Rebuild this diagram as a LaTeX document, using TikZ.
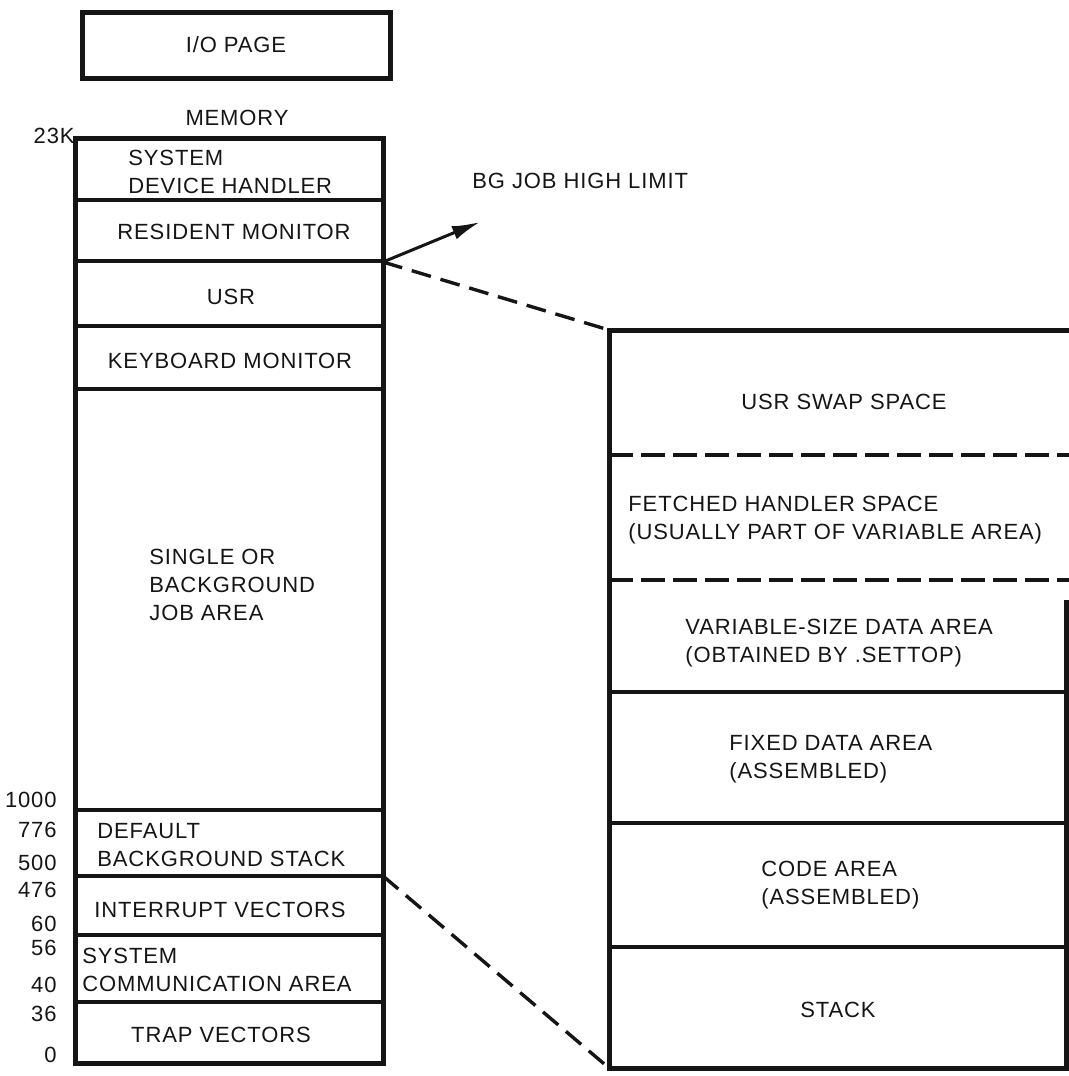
\documentclass[tikz,border=0pt]{standalone}
\usepackage{fontspec}
\setmainfont{Liberation Sans}
\newfontfamily\diagfont[LetterSpace=4]{Liberation Sans}
\usepackage{tikz}
\usetikzlibrary{arrows.meta}
\definecolor{ink}{HTML}{151515}
\tikzset{
  memline/.style={draw=ink, line width=2.5pt, line join=miter},
  divline/.style={draw=ink, line width=1.6pt},
  cutline/.style={draw=ink, line width=1.7pt, dash pattern=on 10pt off 5pt},
  splitline/.style={draw=ink, line width=1.6pt, dash pattern=on 12pt off 4pt},
  lbl/.style={text=ink, font=\diagfont\fontsize{11}{14}\selectfont,
              inner sep=0pt, align=center},
  lbll/.style={lbl, align=left, anchor=west},
  addr/.style={lbl, anchor=east},
  pagebox/.style={lbl, draw=ink, line width=2.5pt, minimum width=154pt,
                  minimum height=33pt},
  arr/.style={-{Latex[length=14pt, width=7pt]}, draw=ink, line width=1.5pt},
}

\begin{document}
\begin{tikzpicture}[x=0.5pt, y=-0.5pt]
  \useasboundingbox (0,0) rectangle (1069,1076);
  \node[pagebox] (iopage) at (236,45) {I/O PAGE};
  \node[lbl] (memtitle) at (237,118) {MEMORY};
  \node[addr] (k23) at (75,136) {23K};

  \coordinate (memtl) at (75,138);
  \coordinate (membr) at (383,1063);
  \draw[memline] (memtl) rectangle (membr);
  \foreach \y in {200,261,326,389,810,876,935,1002}
    \draw[divline] (75,\y) -- (383,\y);

  \node[lbll] (sysdev) at (128,172) {SYSTEM\\DEVICE HANDLER};
  \node[lbl] (resmon) at (234,232) {RESIDENT MONITOR};
  \node[lbl] (usr) at (231,297) {USR};
  \node[lbl] (kbmon) at (230,361) {KEYBOARD MONITOR};
  \node[lbll] (jobarea) at (149,585) {SINGLE OR\\BACKGROUND\\JOB AREA};
  \node[lbll] (bgstack) at (97,845) {DEFAULT\\BACKGROUND STACK};
  \node[lbl] (intvec) at (220,910) {INTERRUPT VECTORS};
  \node[lbll] (syscom) at (82,970) {SYSTEM\\COMMUNICATION AREA};
  \node[lbl] (trapvec) at (221,1035) {TRAP VECTORS};
  \foreach \a/\y in {1000/800, 776/830, 500/863, 476/890, 60/924,
                     56/948, 40/985, 36/1014, 0/1055}
    \node[addr] (a\a) at (57,\y) {\a};

  \coordinate (exptl) at (609,330);
  \coordinate (expbl) at (609,1068);
  \draw[memline] (1069,330) -- (exptl) -- (expbl) -- (1066,1068) -- (1066,600);
  \foreach \y in {455,580}
    \draw[splitline] (609,\y) -- (1069,\y);
  \foreach \y in {692,823,947}
    \draw[divline] (609,\y) -- (1066,\y);

  \node[lbl] (swap) at (844,402) {USR SWAP SPACE};
  \node[lbll] (fetched) at (628,520)
    {FETCHED HANDLER SPACE\\(USUALLY PART OF VARIABLE AREA)};
  \node[lbll] (vardata) at (685,643)
    {VARIABLE-SIZE DATA AREA\\(OBTAINED BY .SETTOP)};
  \node[lbll] (fixdata) at (729,759) {FIXED DATA AREA\\(ASSEMBLED)};
  \node[lbll] (code) at (761,885) {CODE AREA\\(ASSEMBLED)};
  \node[lbl] (stack) at (838,1010) {STACK};

  \node[lbll] (hilim) at (472,181) {BG JOB HIGH LIMIT};
  \coordinate (usrtop) at (383,262);
  \coordinate (hilimtip) at (480,222);
  \coordinate (bgbot) at (383,876);
  \draw[arr] (usrtop) -- (hilimtip);
  \draw[cutline] (usrtop) -- (exptl);
  \draw[cutline] (bgbot) -- (expbl);
\end{tikzpicture}
\end{document}
